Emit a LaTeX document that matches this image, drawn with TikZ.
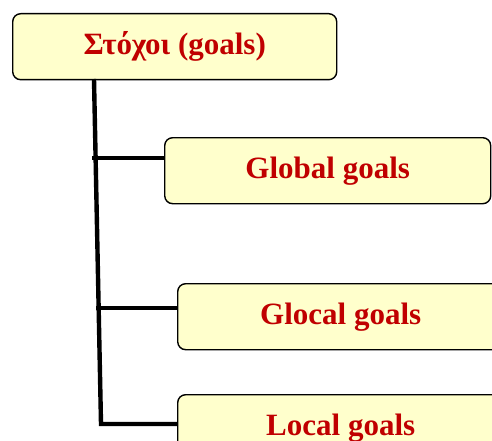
\documentclass[tikz,border=0pt]{standalone}
\usepackage{fontspec}
\setmainfont{Liberation Serif}
\usepackage{xcolor}
\usetikzlibrary{positioning}
\definecolor{goalfill}{HTML}{FFFFCC}
\definecolor{goalred}{HTML}{C00000}

\begin{document}
\begin{tikzpicture}[x=1pt,y=-1pt,
    goalbox/.style={draw=black, line width=1.4pt, fill=goalfill, rounded corners=8pt,
      minimum width=326pt, minimum height=66pt, inner sep=0pt, anchor=north west,
      text=goalred, font=\fontsize{31}{34}\selectfont\bfseries},
    branch/.style={line width=4.4pt}]
    \useasboundingbox (0,0) rectangle (492,441);
    \clip (0,0) rectangle (492,441);
    % boxes
    \node[goalbox, minimum width=324pt] (goals) at (12,13) {Στόχοι (goals)};
    \node[goalbox] (global) at (164,137) {\raisebox{-2pt}{Global goals}};
    \node[goalbox] (glocal) at (177,283) {\raisebox{-2pt}{Glocal goals}};
    \node[goalbox] (local) at (177,394) {\raisebox{-2pt}{Local goals}};
    % tree lines
    \coordinate (top) at (94,79);
    \coordinate (bend) at (101,424);
    \coordinate (j1) at (92,158);
    \coordinate (j2) at (96,308);
    \draw[branch] (top) -- (bend) -- (bend -| local.west);
    \draw[branch] (j1) -- (j1 -| global.west);
    \draw[branch] (j2) -- (j2 -| glocal.west);
\end{tikzpicture}
\end{document}
